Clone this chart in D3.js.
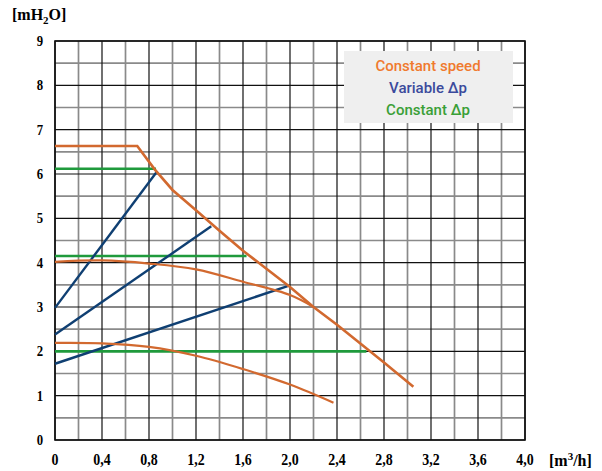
<!DOCTYPE html>
<html>
<head>
<meta charset="utf-8">
<script src="https://cdn.jsdelivr.net/npm/d3@7"></script>
<style>
  body { margin: 0; background: #fff; }
</style>
</head>
<body>
<div id="chart"></div>
<script>
// pump curves (x = m3/h, y = mH2O)
var speedHigh = [[0,6.63],[0.7,6.63],[0.85,6.1],[1.0,5.64],[1.2,5.18],[1.4,4.72],[1.6,4.27],[2.0,3.45],[2.2,3.0],[2.4,2.6],[2.8,1.75],[3.05,1.2]];
var speedMid  = [[0,4.02],[0.4,4.05],[0.8,3.98],[1.2,3.85],[1.6,3.57],[2.0,3.27],[2.2,3.0]];
var speedLow  = [[0,2.19],[0.4,2.18],[0.8,2.1],[1.2,1.9],[1.6,1.6],[2.0,1.25],[2.37,0.84]];

var varDp1 = [[0,2.98],[0.87,6.06]];
var varDp2 = [[0,2.38],[1.33,4.82]];
var varDp3 = [[0,1.72],[1.98,3.47]];

var constDp1 = [[0,6.12],[0.86,6.12]];
var constDp2 = [[0,4.15],[1.63,4.15]];
var constDp3 = [[0,2.0],[2.65,2.0]];

var xTicks = [0,0.4,0.8,1.2,1.6,2.0,2.4,2.8,3.2,3.6,4.0];
var yTicks = [0,1,2,3,4,5,6,7,8,9];
var legendItems = ["Constant speed", "Variable Δp", "Constant Δp"];

var W = 602, H = 471;
var svg = d3.select("#chart").append("svg")
    .attr("width", W).attr("height", H)
    .style("font-family", "'Liberation Serif', 'Times New Roman', serif");

var x = d3.scaleLinear().domain([0, 4]).range([55, 525]);
var y = d3.scaleLinear().domain([0, 9]).range([440, 41]);

// grid: minor grey lines first, major black ones on top
var grid = svg.append("g");
grid.selectAll(".vminor").data(d3.range(0.2, 4, 0.4)).enter().append("line")
    .attr("x1", d => x(d)).attr("x2", d => x(d))
    .attr("y1", y(0)).attr("y2", y(9))
    .attr("stroke", "#8a8a8a").attr("stroke-width", 1.7);
grid.selectAll(".hminor").data(d3.range(0.5, 9, 1)).enter().append("line")
    .attr("x1", x(0)).attr("x2", x(4))
    .attr("y1", d => y(d)).attr("y2", d => y(d))
    .attr("stroke", "#8a8a8a").attr("stroke-width", 1.7);
grid.selectAll(".vmajor").data(xTicks).enter().append("line")
    .attr("x1", d => x(d)).attr("x2", d => x(d))
    .attr("y1", y(0)).attr("y2", y(9))
    .attr("stroke", "#111").attr("stroke-width", 1.2);
grid.selectAll(".hmajor").data(yTicks).enter().append("line")
    .attr("x1", x(0)).attr("x2", x(4))
    .attr("y1", d => y(d)).attr("y2", d => y(d))
    .attr("stroke", "#111").attr("stroke-width", 1.2);

// frame
svg.append("rect")
    .attr("x", x(0)).attr("y", y(9))
    .attr("width", x(4) - x(0)).attr("height", y(0) - y(9))
    .attr("fill", "none").attr("stroke", "#111").attr("stroke-width", 1.6);

// tick labels (narrow bold serif, squeezed a bit)
svg.selectAll(".ylab").data(yTicks).enter().append("text")
    .attr("transform", d => "translate(40," + (y(d) + 5) + ") scale(0.85,1)")
    .attr("text-anchor", "middle")
    .attr("font-size", 15).attr("font-weight", "bold")
    .text(d => d);
svg.selectAll(".xlab").data(xTicks).enter().append("text")
    .attr("transform", d => "translate(" + x(d) + ",465) scale(0.82,1)")
    .attr("text-anchor", "middle")
    .attr("font-size", 17).attr("font-weight", "bold")
    .text(d => d === 0 ? "0" : d3.format(".1f")(d).replace(".", ","));

// axis units
var yUnit = svg.append("text").attr("x", 12).attr("y", 20)
    .attr("font-size", 16).attr("font-weight", "bold");
yUnit.append("tspan").text("[mH");
yUnit.append("tspan").attr("font-size", 11).attr("dy", 4).text("2");
yUnit.append("tspan").attr("dy", -4).text("O]");

var xUnit = svg.append("text").attr("x", 549).attr("y", 466)
    .attr("font-size", 16).attr("font-weight", "bold");
xUnit.append("tspan").text("[m");
xUnit.append("tspan").attr("font-size", 11).attr("dy", -6).text("3");
xUnit.append("tspan").attr("dy", 6).text("/h]");

// curves
var line = d3.line().x(d => x(d[0])).y(d => y(d[1]));
var curve = d3.line().x(d => x(d[0])).y(d => y(d[1])).curve(d3.curveCatmullRom);

var orange = "#d2692f", blue = "#0f3f72", green = "#1f9a3c";

[constDp1, constDp2, constDp3].forEach(function (s) {
  svg.append("path").attr("d", line(s))
     .attr("fill", "none").attr("stroke", green).attr("stroke-width", 2.6);
});
[varDp1, varDp2, varDp3].forEach(function (s) {
  svg.append("path").attr("d", line(s))
     .attr("fill", "none").attr("stroke", blue).attr("stroke-width", 2.4);
});
svg.append("path").attr("d", line(speedHigh))
   .attr("fill", "none").attr("stroke", orange).attr("stroke-width", 2.6);
[speedMid, speedLow].forEach(function (s) {
  svg.append("path").attr("d", curve(s))
     .attr("fill", "none").attr("stroke", orange).attr("stroke-width", 2.2);
});

// legend
svg.append("rect").attr("x", 344).attr("y", 51)
   .attr("width", 169).attr("height", 72).attr("fill", "#efefef");
var legendColors = ["#f07a2e", "#3b4a9c", "#3a9f37"];
svg.selectAll(".leg").data(legendItems).enter().append("text")
   .attr("x", 428).attr("y", (d, i) => 71 + i * 22)
   .attr("text-anchor", "middle")
   .attr("font-family", "Roboto, sans-serif")
   .attr("font-size", 15).attr("font-weight", 500)
   .attr("fill", (d, i) => legendColors[i])
   .text(d => d);
</script>
</body>
</html>
